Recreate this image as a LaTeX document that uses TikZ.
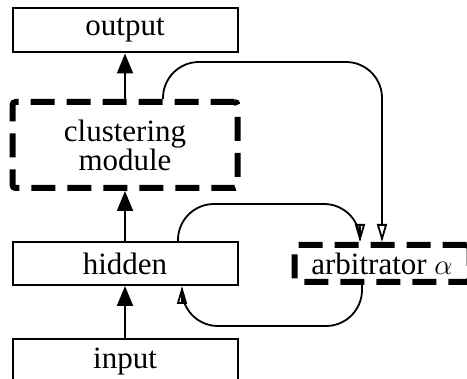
\documentclass[tikz,border=0pt]{standalone}
\usepackage{fontspec}
\setmainfont{Liberation Serif}
\usetikzlibrary{arrows.meta}

\begin{document}
\begin{tikzpicture}[x=0.5pt, y=-0.5pt]
\tikzset{boite/.style={draw, line width=1pt, minimum width=112.5pt, minimum height=22pt, inner sep=0pt, font=\fontsize{15.5}{14.5}\selectfont},
  tirets/.style={boite, line width=3pt, dash pattern=on 12pt off 6pt, rounded corners=1.5pt},
  montee/.style={line width=1pt, -{Triangle[width=8pt, length=10pt]}},
  boucle/.style={line width=0.9pt, rounded corners=18pt, -{Triangle[open, width=5pt, length=9pt]}}}
\useasboundingbox (0,0) rectangle (467,379);
\node[boite] (output) at (125, 30.5) {output};
\node[tirets, minimum height=43pt, align=center] (clus) at (125, 145) {clustering\\module};
\node[boite, minimum height=21.5pt] (hidden) at (125, 263.5) {hidden};
\node[boite] (input) at (125, 361.5) {input};
\node[tirets, minimum width=87.5pt, minimum height=18.5pt] (arb) at (382, 263.5) {arbitrator $\alpha$};
\draw[montee] (input.north) -- (hidden.south);
\draw[montee] (hidden.north) -- (clus.south);
\draw[montee] (clus.north) -- (output.south);
\draw[boucle] ([xshift=19pt]clus.north) -- ++(0,18.5pt) -| (arb.north);
\draw[boucle] ([xshift=26.5pt]hidden.north) -- ++(0,18.5pt) -| ([xshift=-11pt]arb.north);
\draw[boucle] ([xshift=-10pt]arb.south) -- ++(0,-20.5pt) -| ([xshift=28.5pt]hidden.south);
\end{tikzpicture}
\end{document}
